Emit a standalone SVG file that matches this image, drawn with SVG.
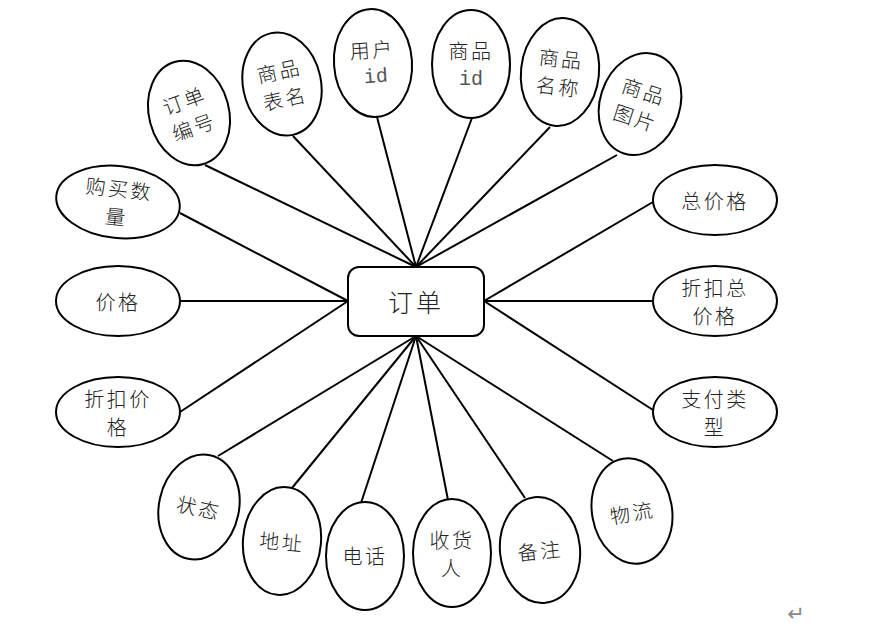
<svg xmlns="http://www.w3.org/2000/svg" width="869" height="638" viewBox="0 0 869 638">
<style>
.n ellipse,.n rect{fill:#fff;stroke:#000;stroke-width:2}
.n text{font-family:"Noto Sans CJK SC","Liberation Serif",serif;font-size:20px;font-weight:300;fill:#222;text-anchor:middle;dominant-baseline:central;letter-spacing:2.5px}
.n text.m{font-family:"Liberation Mono","Noto Sans CJK SC",monospace;font-weight:300;fill:#555;letter-spacing:0}
#edges line{stroke:#000;stroke-width:2}
</style>
<rect width="869" height="638" fill="#fff"/>
<g id="edges">
<line x1="205" y1="165" x2="416" y2="267"/>
<line x1="293" y1="136" x2="416" y2="267"/>
<line x1="377" y1="117" x2="416" y2="267"/>
<line x1="472" y1="118" x2="416" y2="267"/>
<line x1="550" y1="127" x2="416" y2="267"/>
<line x1="617" y1="155" x2="416" y2="267"/>
<line x1="653" y1="202" x2="484" y2="301"/>
<line x1="653" y1="301" x2="484" y2="301"/>
<line x1="653" y1="410" x2="484" y2="301"/>
<line x1="180" y1="213" x2="348" y2="301"/>
<line x1="180" y1="301" x2="348" y2="301"/>
<line x1="180" y1="412" x2="348" y2="301"/>
<line x1="218" y1="456" x2="416" y2="336"/>
<line x1="292" y1="488" x2="416" y2="336"/>
<line x1="361" y1="503" x2="416" y2="336"/>
<line x1="448" y1="500" x2="416" y2="336"/>
<line x1="525" y1="498" x2="416" y2="336"/>
<line x1="613" y1="461" x2="416" y2="336"/>
</g>
<g id="order" class="n"><rect x="348" y="267" width="136" height="69" rx="11"/><text x="416" y="301" style="font-size:25px;letter-spacing:3px">订单</text></g>
<g id="orderNo" class="n" transform="rotate(-15 189 113)"><ellipse cx="189" cy="113" rx="40" ry="53"/><text x="189" y="99" transform="rotate(-5 189 113)">订单</text><text x="189" y="127" transform="rotate(-5 189 113)">编号</text></g>
<g id="tableName" class="n" transform="rotate(-12 282 84)"><ellipse cx="282" cy="84" rx="39" ry="52"/><text x="282" y="70">商品</text><text x="282" y="98">表名</text></g>
<g id="userId" class="n" transform="rotate(-4 373 63)"><ellipse cx="373" cy="63" rx="39" ry="54"/><text x="373" y="49">用户</text><text class="m" x="375" y="77">id</text></g>
<g id="goodsId" class="n"><ellipse cx="471" cy="64" rx="39" ry="54"/><text x="471" y="50">商品</text><text class="m" x="471" y="79">id</text></g>
<g id="goodsName" class="n" transform="rotate(6 560 72)"><ellipse cx="560" cy="72" rx="39" ry="54"/><text x="560" y="58">商品</text><text x="560" y="86">名称</text></g>
<g id="goodsImg" class="n" transform="rotate(18 640 104)"><ellipse cx="640" cy="104" rx="40" ry="52"/><text x="640" y="90">商品</text><text x="640" y="118">图片</text></g>
<g id="total" class="n"><ellipse cx="715" cy="200" rx="62" ry="35"/><text x="715" y="200">总价格</text></g>
<g id="discTotal" class="n"><ellipse cx="715" cy="301" rx="62" ry="35"/><text x="715" y="287">折扣总</text><text x="715" y="315">价格</text></g>
<g id="payType" class="n"><ellipse cx="715" cy="412" rx="62" ry="35"/><text x="715" y="398">支付类</text><text x="715" y="426">型</text></g>
<g id="qty" class="n" transform="rotate(6 118 202)"><ellipse cx="118" cy="202" rx="62" ry="36"/><text x="118" y="188">购买数</text><text x="118" y="216">量</text></g>
<g id="price" class="n"><ellipse cx="118" cy="301" rx="62" ry="35"/><text x="118" y="301">价格</text></g>
<g id="discPrice" class="n"><ellipse cx="118" cy="412" rx="62" ry="35"/><text x="118" y="398">折扣价</text><text x="118" y="426">格</text></g>
<g id="status" class="n" transform="rotate(12 199 507)"><ellipse cx="199" cy="507" rx="40" ry="53"/><text x="199" y="507">状态</text></g>
<g id="address" class="n" transform="rotate(5 282 541)"><ellipse cx="282" cy="541" rx="39" ry="54"/><text x="282" y="541">地址</text></g>
<g id="phone" class="n"><ellipse cx="365" cy="556" rx="39" ry="54"/><text x="365" y="555">电话</text></g>
<g id="receiver" class="n"><ellipse cx="452" cy="553" rx="39" ry="54"/><text x="452" y="539">收货</text><text x="452" y="567">人</text></g>
<g id="remark" class="n" transform="rotate(-6 540 550)"><ellipse cx="540" cy="550" rx="40" ry="53"/><text x="540" y="550">备注</text></g>
<g id="logistics" class="n" transform="rotate(-10 632 511)"><ellipse cx="632" cy="511" rx="40" ry="53"/><text x="632" y="512">物流</text></g>
<text x="796" y="621" style="font-family:'DejaVu Sans',sans-serif;font-size:21px;fill:#888" text-anchor="middle">↵</text>
</svg>
